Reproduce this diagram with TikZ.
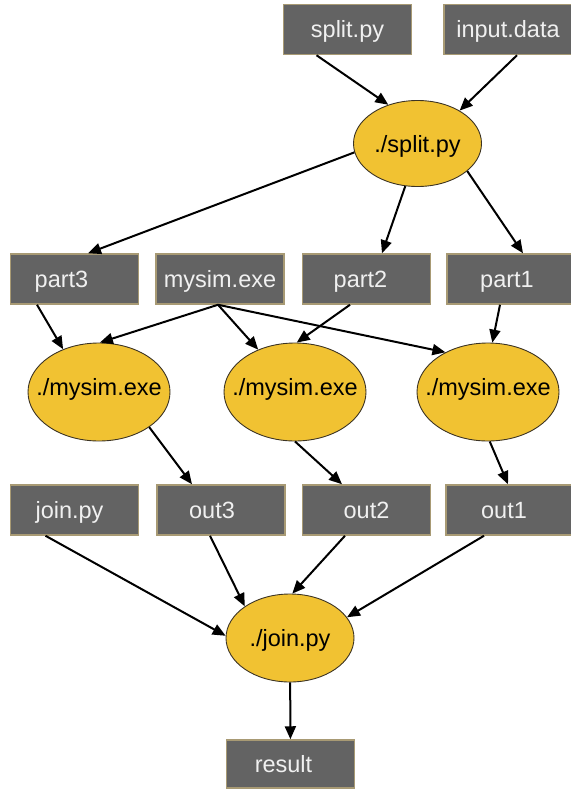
\documentclass[tikz,border=0pt]{standalone}
\usepackage{fontspec}
\setmainfont{Liberation Sans}
\usepackage{tikz}
\usetikzlibrary{arrows.meta,shapes.geometric}
\definecolor{boxgray}{HTML}{636363}
\definecolor{boxedge}{HTML}{A89A74}
\definecolor{rungold}{HTML}{F1C232}
\definecolor{runedge}{HTML}{3C3424}

\begin{document}
\begin{tikzpicture}[
  x=1pt, y=-1pt,
  line width=2pt,
  >={Triangle[length=13pt,width=11pt]},
  every node/.style={
    font=\fontsize{23.5}{27}\selectfont,
    text height=17pt,
    text depth=0pt
  },
  box/.style={
    draw=boxedge,
    fill=boxgray,
    line width=1.5pt,
    text=white!94!black,
    rectangle,
    minimum width=128pt,
    minimum height=50pt,
    inner sep=0pt
  },
  trail/.style={execute at end node={\hspace*{#1}}},
  run/.style={
    draw=runedge,
    fill=rungold,
    line width=0.9pt,
    ellipse,
    inner xsep=-30pt,
    inner ysep=0pt,
    minimum width=142pt,
    minimum height=98pt
  }
]

\useasboundingbox (0,0) rectangle (570,789);

\node[box] (splitpy) at (347.5,29.5) {split.py};
\node[box] (inputdata) at (508,29.5) {input.data};

\node[run, minimum width=128pt, minimum height=86pt] (splitrun) at (417.5,143.5) {./split.py};

\node[box, trail=26pt] (part3) at (74.5,279) {part3};
\node[box] (mysimexe) at (220,279) {mysim.exe};
\node[box, trail=12pt] (part2) at (366.5,279) {part2};
\node[box, trail=8pt] (part1) at (511,279) {part1};

\node[run, text depth=11pt] (run3) at (99,392) {./mysim.exe};
\node[run, text depth=11pt] (run2) at (295,392) {./mysim.exe};
\node[run, text depth=11pt] (run1) at (488,392) {./mysim.exe};

\node[box, trail=10pt] (joinpy) at (74.5,510) {join.py};
\node[box, trail=18pt] (out3) at (221,510) {out3};
\node[box] (out2) at (366.5,510) {out2};
\node[box, trail=12pt] (out1) at (510,510) {out1};

\node[run, minimum width=128pt, minimum height=88pt] (joinrun) at (290,638) {./join.py};

\node[box, minimum height=48pt, trail=14pt] (result) at (290.5,764) {result};

\draw[->] ([xshift=-31pt]splitpy.south) -- (splitrun.127);
\draw[->] ([xshift=9pt]inputdata.south) -- (splitrun.38);
\draw[->] (splitrun.188) -- ([xshift=13.5pt]part3.north);
\draw[->] (splitrun.254) -- ([xshift=15.5pt]part2.north);
\draw[->] (splitrun.331) -- ([xshift=12pt]part1.north);

\draw[->] ([xshift=-37.5pt]part3.south) -- (run3.130);
\draw[->] ([xshift=-2pt]mysimexe.south) -- (run3.89);
\draw[->] ([xshift=-2pt]mysimexe.south) -- (run2.131);
\draw[->] ([xshift=-2pt]mysimexe.south) -- (run1.137);
\draw[->] ([xshift=-16.5pt]part2.south) -- (run2.88);
\draw[->] ([xshift=-11pt]part1.south) -- (run1.85);

\draw[->] (run3.325) -- ([xshift=-29pt]out3.north);
\draw[->] (run2.south) -- ([xshift=-24.5pt]out2.north);
\draw[->] (run1.272) -- ([xshift=-2pt]out1.north);

\draw[->] ([xshift=-29pt]joinpy.south) -- (joinrun.178);
\draw[->] ([xshift=-11pt]out3.south) -- (joinrun.145);
\draw[->] ([xshift=-21.5pt]out2.south) -- (joinrun.87);
\draw[->] ([xshift=-26pt]out1.south) -- (joinrun.20);
\draw[->] (joinrun) -- (result);

\end{tikzpicture}
\end{document}
